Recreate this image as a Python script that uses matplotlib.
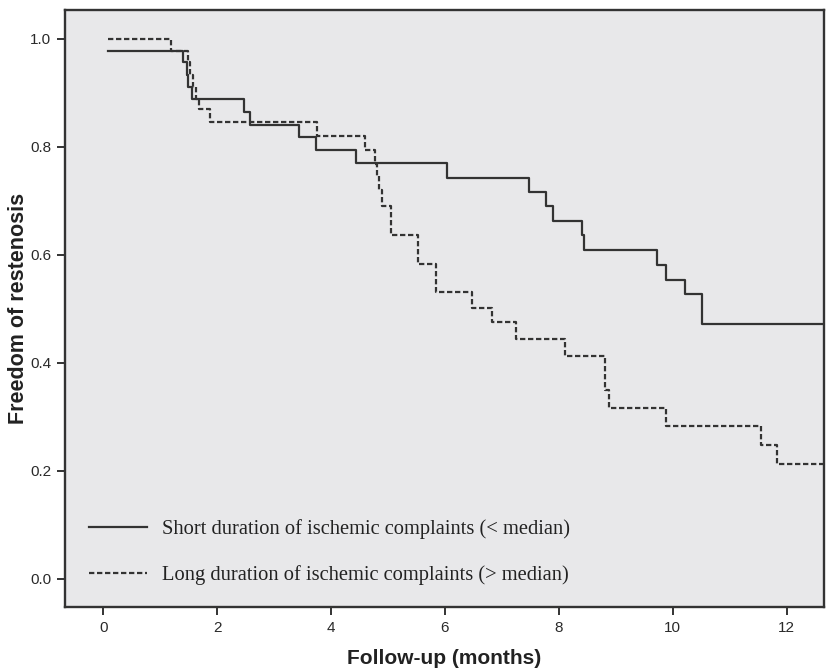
import matplotlib
matplotlib.use("Agg")
import matplotlib.pyplot as plt
from matplotlib.ticker import FormatStrFormatter

# Kaplan-Meier steps (months, survival)
short_t = [0.08, 1.40, 1.46, 1.49, 1.56, 2.47, 2.58, 3.43, 3.74, 4.44,
           6.04, 7.47, 7.78, 7.90, 8.41, 8.44, 9.73, 9.88, 10.21, 10.51]
short_s = [0.978, 0.956, 0.933, 0.911, 0.889, 0.865, 0.841, 0.818, 0.793, 0.769,
           0.742, 0.716, 0.690, 0.663, 0.637, 0.609, 0.581, 0.554, 0.527, 0.472]

long_t = [0.08, 1.18, 1.49, 1.53, 1.58, 1.63, 1.68, 1.88, 3.75, 4.60,
          4.77, 4.80, 4.84, 4.89, 5.06, 5.53, 5.85, 6.48, 6.82, 7.24,
          8.10, 8.81, 8.89, 9.88, 11.56, 11.84]
long_s = [1.0, 0.978, 0.956, 0.933, 0.911, 0.889, 0.869, 0.845, 0.819, 0.794,
          0.767, 0.745, 0.720, 0.691, 0.637, 0.583, 0.530, 0.501, 0.475, 0.444,
          0.412, 0.350, 0.316, 0.282, 0.247, 0.212]

end_t = 12.8

short_label = "Short duration of ischemic complaints (< median)"
long_label = "Long duration of ischemic complaints (> median)"

line_col = "#333333"

fig = plt.figure(figsize=(8.26, 6.69), dpi=100)
ax = fig.add_axes([0.079, 0.093, 0.918, 0.892])
ax.set_facecolor("#e8e8ea")

ax.step(short_t + [end_t], short_s + [short_s[-1]], where="post",
        color=line_col, lw=1.6, label=short_label)
ax.step(long_t + [end_t], long_s + [long_s[-1]], where="post",
        color=line_col, lw=1.6, ls=(0, (2.4, 1.2)), label=long_label)

ax.set_xlim(-0.67, 12.65)
ax.set_ylim(-0.052, 1.053)
ax.set_xticks(range(0, 13, 2))
ax.set_yticks([0.0, 0.2, 0.4, 0.6, 0.8, 1.0])
ax.yaxis.set_major_formatter(FormatStrFormatter("%.1f"))

for side in ["left", "right", "top", "bottom"]:
    ax.spines[side].set_color(line_col)
    ax.spines[side].set_linewidth(1.7)

ax.tick_params(direction="out", length=6, width=1.4, color=line_col,
               labelsize=11, labelcolor="#2a2a2a", pad=4)
for lab in ax.get_xticklabels() + ax.get_yticklabels():
    lab.set_family("Liberation Sans")

ax.set_xlabel("Follow-up (months)", fontsize=15, fontweight="bold",
              family="Liberation Sans", color="#222222", labelpad=10)
ax.set_ylabel("Freedom of restenosis", fontsize=15.5, fontweight="bold",
              family="Liberation Sans", color="#222222")
ax.yaxis.set_label_coords(-0.048, 0.5)

leg = ax.legend(loc="lower left", bbox_to_anchor=(0.007, 0.006), frameon=False,
                prop={"family": "Liberation Serif", "size": 14.8},
                handlelength=2.8, handletextpad=0.75, labelspacing=1.25)
for t in leg.get_texts():
    t.set_color("#222222")

fig.savefig("out.png", dpi=100)
